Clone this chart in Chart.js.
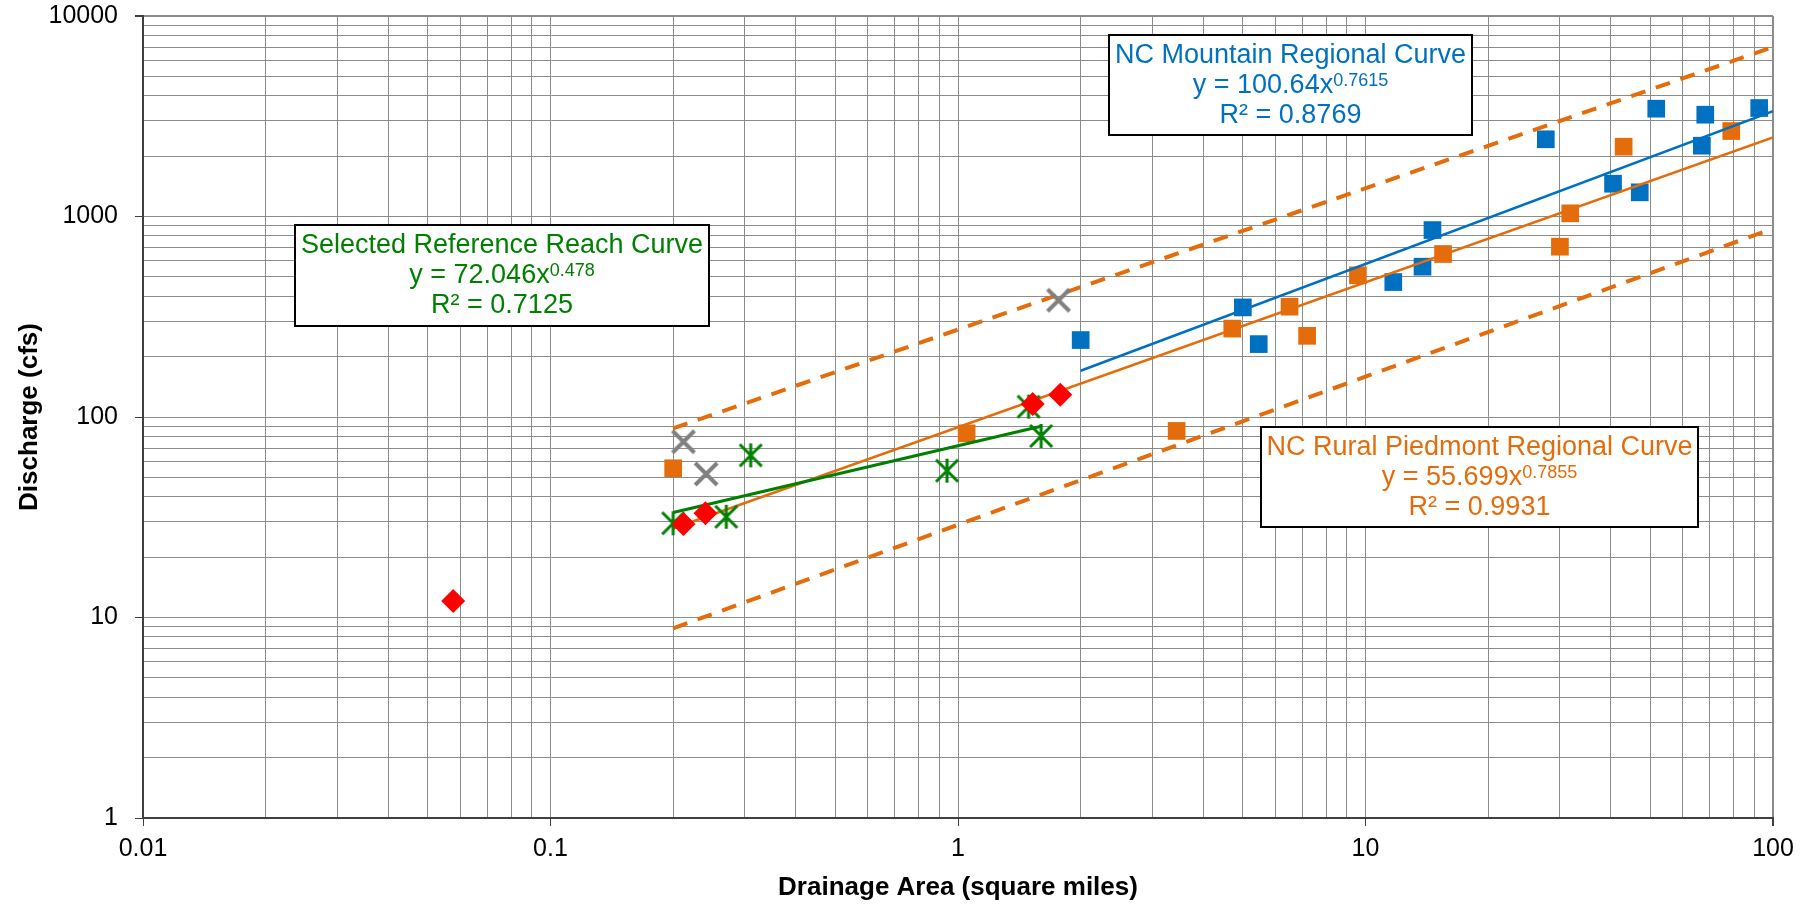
<!DOCTYPE html>
<html><head><meta charset="utf-8">
<script src="https://cdn.jsdelivr.net/npm/chart.js@4/dist/chart.umd.min.js"></script>
<style>html,body{margin:0;padding:0;background:#fff;} canvas{display:block;}</style>
</head><body>
<canvas id="c" width="1818" height="906"></canvas>
<script>
// ---- tick labels ----
const xTickValues = [0.01, 0.1, 1, 10, 100];
const xTickLabels = ['0.01', '0.1', '1', '10', '100'];
const yTickValues = [1, 10, 100, 1000, 10000];
const yTickLabels = ['1', '10', '100', '1000', '10000'];

// ---- NC Mountain regional data (blue squares) ----
const mountainArea = [2.0, 5.0, 5.47, 11.7, 13.8, 14.6, 27.7, 40.5, 47.1, 51.7, 66.9, 68.2, 92.5];
const mountainQ    = [242, 352, 231, 471, 562, 856, 2427, 1457, 1320, 3449, 2255, 3219, 3476];

// ---- NC Rural Piedmont regional data (orange squares) ----
const piedmontArea = [0.2, 1.05, 3.44, 4.71, 6.51, 7.19, 9.58, 15.5, 30.0, 31.8, 43.0, 79.0];
const piedmontQ    = [55.5, 82.9, 85.2, 276, 355, 254, 509, 650, 707, 1037, 2229, 2669];

// ---- red diamonds ----
const diamondArea = [0.0577, 0.212, 0.240, 1.525, 1.782];
const diamondQ    = [12.1, 29.3, 33.1, 116, 129];

// ---- selected reference reaches (green asterisks) ----
const referenceArea = [0.2, 0.27, 0.31, 0.94, 1.49, 1.60];
const referenceQ    = [29.5, 31.8, 64.4, 54.0, 112.6, 80.4];

// ---- excluded reaches (grey X) ----
const excludedArea = [0.212, 0.241, 1.765];
const excludedQ    = [75.3, 52.0, 382];

// ---- trend lines (end points) ----
const mountainFitArea = [2, 100];      const mountainFitQ = [170, 3350];
const piedmontFitArea = [0.2, 100];    const piedmontFitQ = [27.8, 2480];
const referenceFitArea = [0.2, 1.6];   const referenceFitQ = [33.4, 90];
const upperBoundArea = [0.2, 100];     const upperBoundQ = [87.8, 7000];
const lowerBoundArea = [0.2, 100];     const lowerBoundQ = [8.83, 871];

const FONT = "'Liberation Sans', Arial, sans-serif";
const BLUE = '#0070C0', ORANGE = '#E46C0A', GREEN = '#008000', RED = '#FF0000', GREY = '#808080';

function pts(xs, ys) { return xs.map((x, i) => ({ x: x, y: ys[i] })); }

function logTicks(majors) {
  const t = [];
  for (let i = 0; i < majors.length; i++) {
    t.push({ value: majors[i], major: true });
    if (i < majors.length - 1)
      for (let m = 2; m <= 9; m++) t.push({ value: +(majors[i] * m).toPrecision(6), major: false });
  }
  return t;
}
function findMajor(values, v) {
  for (let i = 0; i < values.length; i++) if (Math.abs(v / values[i] - 1) < 1e-6) return i;
  return -1;
}

function markerCanvas(kind) {
  const c = document.createElement('canvas');
  c.width = 30; c.height = 30;
  const g = c.getContext('2d');
  g.lineCap = 'butt';
  if (kind === 'star') {
    g.strokeStyle = GREEN; g.lineWidth = 3;
    g.beginPath();
    g.moveTo(4, 4); g.lineTo(26, 26);
    g.moveTo(26, 4); g.lineTo(4, 26);
    g.moveTo(15, 3); g.lineTo(15, 27);
    g.stroke();
  } else {
    g.strokeStyle = GREY; g.lineWidth = 4;
    g.beginPath();
    g.moveTo(4, 4); g.lineTo(26, 26);
    g.moveTo(26, 4); g.lineTo(4, 26);
    g.stroke();
  }
  return c;
}

const boxes = [
  { left: 295, top: 225, w: 414, h: 101, color: GREEN, title: 'Selected Reference Reach Curve', coef: '72.046', exp: '0.478', r2: '0.7125' },
  { left: 1109, top: 35, w: 363, h: 100, color: BLUE, title: 'NC Mountain Regional Curve', coef: '100.64', exp: '0.7615', r2: '0.8769' },
  { left: 1261, top: 427, w: 437, h: 100, color: ORANGE, title: 'NC Rural Piedmont Regional Curve', coef: '55.699', exp: '0.7855', r2: '0.9931' }
];

const boxPlugin = {
  id: 'eqBoxes',
  afterDatasetsDraw(chart) {
    const ctx = chart.ctx;
    ctx.save();
    boxes.forEach(b => {
      ctx.fillStyle = '#fff';
      ctx.fillRect(b.left, b.top, b.w, b.h);
      ctx.strokeStyle = '#000'; ctx.lineWidth = 2;
      ctx.strokeRect(b.left, b.top, b.w, b.h);
      const cx = b.left + b.w / 2;
      ctx.fillStyle = b.color;
      ctx.textBaseline = 'middle';
      ctx.textAlign = 'center';
      ctx.font = '27px ' + FONT;
      ctx.fillText(b.title, cx, b.top + 21);
      const main = 'y = ' + b.coef + 'x';
      const mw = ctx.measureText(main).width;
      ctx.font = '18px ' + FONT;
      const sw = ctx.measureText(b.exp).width;
      const start = cx - (mw + sw) / 2;
      ctx.textAlign = 'left';
      ctx.font = '27px ' + FONT;
      ctx.fillText(main, start, b.top + 51);
      ctx.font = '18px ' + FONT;
      ctx.fillText(b.exp, start + mw, b.top + 46);
      ctx.textAlign = 'center';
      ctx.font = '27px ' + FONT;
      ctx.fillText('R\u00B2 = ' + b.r2, cx, b.top + 81);
    });
    ctx.restore();
  }
};

function lineDs(xs, ys, color, width, dash, order) {
  return { type: 'scatter', data: pts(xs, ys), showLine: true, borderColor: color, backgroundColor: color,
    borderWidth: width, borderDash: dash || [], pointRadius: 0, fill: false, order: order, borderCapStyle: 'butt' };
}

const gridColor = '#8c8c8c';

new Chart(document.getElementById('c'), {
  type: 'scatter',
  data: {
    datasets: [
      { data: pts(diamondArea, diamondQ), pointStyle: 'rectRot', pointRadius: 12, backgroundColor: RED, borderColor: RED, borderWidth: 0, order: 1 },
      { data: pts(referenceArea, referenceQ), pointStyle: markerCanvas('star'), pointRadius: 12, order: 2 },
      { data: pts(excludedArea, excludedQ), pointStyle: markerCanvas('x'), pointRadius: 12, order: 3 },
      lineDs(referenceFitArea, referenceFitQ, GREEN, 3, null, 4),
      lineDs(piedmontFitArea, piedmontFitQ, ORANGE, 2.5, null, 5),
      lineDs(mountainFitArea, mountainFitQ, BLUE, 2.5, null, 6),
      lineDs(upperBoundArea, upperBoundQ, ORANGE, 4, [15, 11], 7),
      lineDs(lowerBoundArea, lowerBoundQ, ORANGE, 4, [15, 11], 8),
      { data: pts(piedmontArea, piedmontQ), pointStyle: 'rect', pointRadius: 12.5, backgroundColor: ORANGE, borderColor: ORANGE, borderWidth: 0, order: 9 },
      { data: pts(mountainArea, mountainQ), pointStyle: 'rect', pointRadius: 12.5, backgroundColor: BLUE, borderColor: BLUE, borderWidth: 0, order: 10 }
    ]
  },
  options: {
    responsive: false,
    devicePixelRatio: 1,
    animation: false,
    events: [],
    layout: { padding: { left: 0, right: 45, top: 16, bottom: 0 } },
    plugins: { legend: { display: false }, tooltip: { enabled: false }, title: { display: false } },
    scales: {
      x: {
        type: 'logarithmic', position: 'bottom', min: 0.01, max: 100,
        afterBuildTicks: s => { s.ticks = logTicks(xTickValues); },
        afterFit: s => { s.height = 88; s.paddingLeft = 0; s.paddingRight = 0; },
        ticks: {
          autoSkip: false, maxRotation: 0, minRotation: 0, padding: 8, color: '#000',
          font: { size: 25, family: FONT },
          callback: (v) => { const i = findMajor(xTickValues, v); return i >= 0 ? xTickLabels[i] : ''; }
        },
        grid: {
          color: gridColor,
          lineWidth: c => (c.tick && findMajor([100], c.tick.value) === 0) ? 2 : 1,
          tickLength: 8,
          tickColor: c => (c.tick && findMajor(xTickValues, c.tick.value) >= 0) ? '#404040' : 'rgba(0,0,0,0)'
        },
        border: { color: '#404040', width: 2 },
        title: { display: true, text: 'Drainage Area (square miles)', color: '#000', font: { size: 26, weight: 'bold', family: FONT }, padding: { top: 0, bottom: 3 } }
      },
      y: {
        type: 'logarithmic', position: 'left', min: 1, max: 10000,
        afterBuildTicks: s => { s.ticks = logTicks(yTickValues); },
        afterFit: s => { s.width = 143; s.paddingTop = 0; s.paddingBottom = 0; },
        ticks: {
          autoSkip: false, padding: 17, color: '#000',
          font: { size: 25, family: FONT },
          callback: (v) => { const i = findMajor(yTickValues, v); return i >= 0 ? yTickLabels[i] : ''; }
        },
        grid: {
          color: gridColor,
          lineWidth: c => (c.tick && findMajor([10000], c.tick.value) === 0) ? 2 : 1,
          tickLength: 8,
          tickColor: c => (c.tick && findMajor(yTickValues, c.tick.value) >= 0) ? '#404040' : 'rgba(0,0,0,0)'
        },
        border: { color: '#404040', width: 2 },
        title: { display: true, text: 'Discharge (cfs)', color: '#000', font: { size: 26, weight: 'bold', family: FONT }, padding: { top: 14, bottom: 0 } }
      }
    }
  },
  plugins: [boxPlugin]
});
</script>
</body></html>
